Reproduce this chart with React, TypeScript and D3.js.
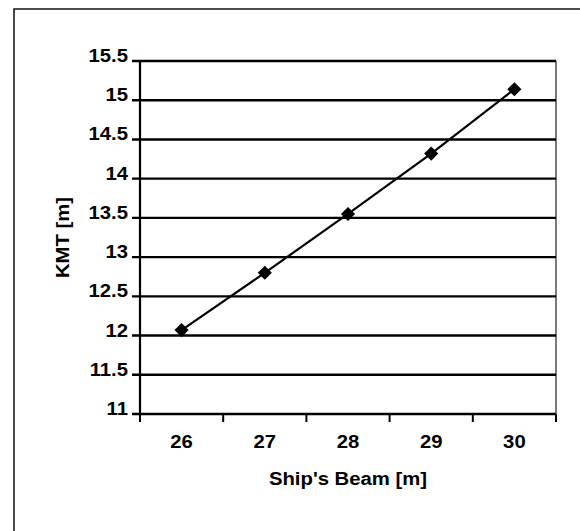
import React from "react";
import * as d3 from "d3";

// ship's beam [m] vs KMT [m]
const beams = ["26", "27", "28", "29", "30"];
const kmt = [12.07, 12.8, 13.55, 14.32, 15.14];
const yTicks = [11, 11.5, 12, 12.5, 13, 13.5, 14, 14.5, 15, 15.5];

const W = 580;
const H = 531;
const left = 140;
const right = 556;
const top = 61;
const bottom = 414;

const font = "'Liberation Sans', Arial, sans-serif";
const stretch = 1.16;
const fs = 17.5;

export default function App() {
  const x = d3.scaleBand().domain(beams).range([left, right]).padding(0);
  const y = d3.scaleLinear().domain([11, 15.5]).range([bottom, top]);
  const cx = (b: string) => x(b)! + x.bandwidth() / 2;

  const line = d3
    .line<number>()
    .x((_, i) => cx(beams[i]))
    .y((d) => y(d));

  const diamond = d3.symbol().type(d3.symbolSquare).size(100)()!;

  const boundaries = beams.map((b) => x(b)!).concat([right]);

  return (
    <svg
      width={W}
      height={H}
      style={{ position: "absolute", left: 0, top: 0, background: "#fff" }}
    >
      {/* outer chart frame, cropped on right and bottom */}
      <rect x={14} y={9} width={700} height={700} fill="none" stroke="#111" strokeWidth={1.5} />

      {/* plot area right border */}
      <line x1={right} x2={right} y1={top} y2={bottom} stroke="#333" strokeWidth={1.3} />

      {/* gridlines */}
      {yTicks.map((t) => (
        <line
          key={"g" + t}
          x1={left - 8}
          x2={right}
          y1={y(t)}
          y2={y(t)}
          stroke="#000"
          strokeWidth={2.4}
        />
      ))}

      {/* y axis */}
      <line x1={left} x2={left} y1={top} y2={bottom + 2} stroke="#000" strokeWidth={2.2} />
      {yTicks.map((t) => (
        <text
          key={"yl" + t}
          transform={`translate(${left - 12},${y(t) + 1}) scale(${stretch},1)`}
          textAnchor="end"
          fontFamily={font}
          fontWeight="bold"
          fontSize={fs}
          fill="#000"
        >
          {t}
        </text>
      ))}

      {/* x axis ticks at category boundaries */}
      {boundaries.map((bx, i) => (
        <line key={"xt" + i} x1={bx} x2={bx} y1={bottom} y2={bottom + 8} stroke="#000" strokeWidth={2} />
      ))}
      {beams.map((b) => (
        <text
          key={"xl" + b}
          transform={`translate(${cx(b)},${448}) scale(${stretch},1)`}
          textAnchor="middle"
          fontFamily={font}
          fontWeight="bold"
          fontSize={fs}
          fill="#000"
        >
          {b}
        </text>
      ))}

      {/* series */}
      <path d={line(kmt)!} fill="none" stroke="#000" strokeWidth={2.2} />
      {kmt.map((v, i) => (
        <path
          key={"m" + i}
          d={diamond}
          transform={`translate(${cx(beams[i])},${y(v)}) rotate(45)`}
          fill="#000"
        />
      ))}

      {/* axis titles */}
      <text
        transform={`translate(${(left + right) / 2},${485}) scale(${stretch},1)`}
        textAnchor="middle"
        fontFamily={font}
        fontWeight="bold"
        fontSize={fs}
        fill="#000"
      >
        Ship's Beam [m]
      </text>
      <text
        transform={`translate(${69},${(top + bottom) / 2}) rotate(-90) scale(${stretch},1)`}
        textAnchor="middle"
        fontFamily={font}
        fontWeight="bold"
        fontSize={fs}
        fill="#000"
      >
        KMT [m]
      </text>
    </svg>
  );
}
